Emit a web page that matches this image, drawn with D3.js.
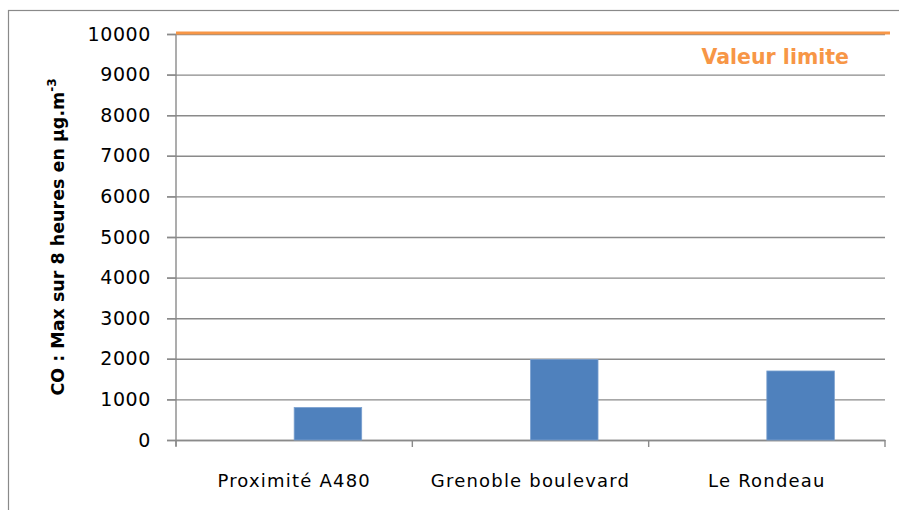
<!DOCTYPE html>
<html>
<head>
<meta charset="utf-8">
<script src="https://cdn.jsdelivr.net/npm/d3@7"></script>
<style>
  html, body { margin: 0; padding: 0; background: #fff; }
  svg { display: block; }
</style>
</head>
<body>
<script>
// Sites and 8-hour maximum CO concentrations (µg/m³)
const categories = ["Proximité A480", "Grenoble boulevard", "Le Rondeau"];
const series = ["Valeur limite", "CO max 8h"];
const coValues = [800, 1980, 1700];
const limitValue = 10000;
const limitLabel = "Valeur limite";
const yTicks = [0, 1000, 2000, 3000, 4000, 5000, 6000, 7000, 8000, 9000, 10000];
const yTitle = "CO : Max sur 8 heures en µg.m";
const yTitleSup = "-3";

const W = 899, H = 510;
const m = { left: 176, right: 885, top: 34, bottom: 440 };
const gridColor = "#8a8a8a";
const barColor = "#4f81bd";
const limitColor = "#f79646";
const font = "'DejaVu Sans', sans-serif";

const svg = d3.select("body").append("svg").attr("width", W).attr("height", H);

// outer chart frame
svg.append("rect")
  .attr("x", 8.5).attr("y", 10.5).attr("width", W + 10).attr("height", H + 10)
  .attr("fill", "none").attr("stroke", gridColor).attr("stroke-width", 1.2);

const x = d3.scaleBand().domain(categories).range([m.left, m.right]).padding(0);
// two-slot group per category with a 150% gap; the limit slot holds no bar
const xs = d3.scaleBand().domain(series).range([0, x.bandwidth()]).paddingInner(0).paddingOuter(0.75);
const y = d3.scaleLinear().domain([0, limitValue]).range([m.bottom, m.top]);

// horizontal gridlines with outward ticks
const yAxis = svg.append("g").attr("transform", `translate(${m.left},0)`)
  .call(d3.axisLeft(y).tickValues(yTicks).tickSize(9).tickPadding(16).tickFormat(d3.format("d")));
yAxis.select(".domain").remove();
yAxis.selectAll(".tick line").attr("stroke", gridColor).attr("stroke-width", 1.4)
  .attr("x1", m.right - m.left);
yAxis.selectAll(".tick line").clone()
  .attr("x1", 0).attr("x2", -9);
yAxis.selectAll(".tick text")
  .attr("font-family", font).attr("font-size", 19).attr("fill", "#000")
  .style("letter-spacing", "0.6px");

// vertical axis line
svg.append("line")
  .attr("x1", m.left).attr("x2", m.left)
  .attr("y1", m.top).attr("y2", m.bottom + 6)
  .attr("stroke", gridColor).attr("stroke-width", 1.4);

// category axis
const xAxis = svg.append("g").attr("transform", `translate(0,${m.bottom})`)
  .call(d3.axisBottom(x).tickSize(0).tickPadding(34));
xAxis.select(".domain").attr("stroke", gridColor).attr("stroke-width", 1.4);
xAxis.selectAll(".tick text")
  .attr("font-family", font).attr("font-size", 18).attr("fill", "#000")
  .style("letter-spacing", "1.2px");
const boundaries = categories.map(c => x(c)).concat([m.right]);
xAxis.selectAll(".sep").data(boundaries).join("line")
  .attr("class", "sep")
  .attr("x1", d => d).attr("x2", d => d)
  .attr("y1", 0).attr("y2", 7)
  .attr("stroke", gridColor).attr("stroke-width", 1.4);

// bars
svg.append("g").selectAll("rect").data(coValues).join("rect")
  .attr("x", (d, i) => x(categories[i]) + xs(series[1]))
  .attr("width", xs.bandwidth())
  .attr("y", d => y(d))
  .attr("height", d => y(0) - y(d))
  .attr("fill", barColor)
  .attr("stroke", "#7aa0cf").attr("stroke-width", 0.8);

// limit value line
svg.append("line")
  .attr("x1", m.left).attr("x2", m.right + 5)
  .attr("y1", y(limitValue) - 1).attr("y2", y(limitValue) - 1)
  .attr("stroke", limitColor).attr("stroke-width", 3);

svg.append("text")
  .attr("x", 849).attr("y", 64)
  .attr("text-anchor", "end")
  .attr("font-family", font).attr("font-weight", "bold").attr("font-size", 20.5)
  .attr("fill", limitColor)
  .text(limitLabel);

// y-axis title
const t = svg.append("text")
  .attr("transform", `translate(64,${(m.top + m.bottom) / 2}) rotate(-90)`)
  .attr("text-anchor", "middle")
  .attr("font-family", font).attr("font-weight", "bold").attr("font-size", 17.5)
  .attr("fill", "#000");
t.append("tspan").text(yTitle);
t.append("tspan").attr("font-size", 12).attr("dy", -8).text(yTitleSup);
</script>
</body>
</html>
